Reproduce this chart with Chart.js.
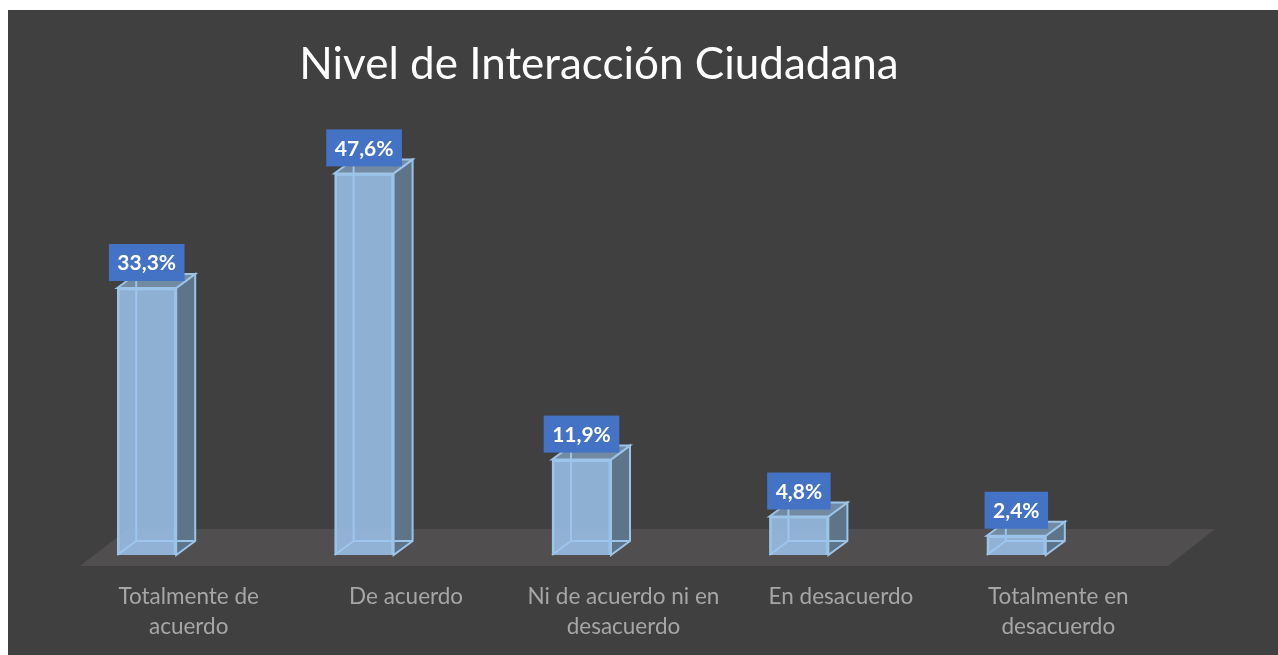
<!DOCTYPE html>
<html>
<head>
<meta charset="utf-8">
<script src="https://cdn.jsdelivr.net/npm/chart.js@4"></script>
<style>
  html, body { margin: 0; padding: 0; background: #fff; overflow: hidden; }
  #wrap { position: relative; width: 1278px; height: 655px; }
  canvas { display: block; }
</style>
</head>
<body>
<div id="wrap"><canvas id="chart" width="1278" height="655"></canvas></div>
<script>
const categories = [
  ['Totalmente de', 'acuerdo'],
  'De acuerdo',
  ['Ni de acuerdo ni en', 'desacuerdo'],
  'En desacuerdo',
  ['Totalmente en', 'desacuerdo'],
];
const percentValues = [33.3, 47.6, 11.9, 4.8, 2.4];
const chartTitle = 'Nivel de Interacción Ciudadana';

const FONT = 'Lato';
const PANEL_COLOR = '#404040';
const FLOOR_COLOR = '#504e4e';
const BAR_FRONT = 'rgba(157,198,238,0.84)';
const BAR_EDGE = '#9cc3e8';
const BAR_SIDE = '#5e7488';
const BAR_TOP = '#728aa2';
const BADGE_COLOR = '#4472c4';
const DEPTH_X = 19;
const DEPTH_Y = 14;

function poly(ctx, pts, fill, stroke) {
  ctx.beginPath();
  pts.forEach((p, i) => (i ? ctx.lineTo(p[0], p[1]) : ctx.moveTo(p[0], p[1])));
  ctx.closePath();
  if (fill) { ctx.fillStyle = fill; ctx.fill(); }
  if (stroke) { ctx.strokeStyle = stroke; ctx.lineWidth = 2; ctx.stroke(); }
}

// panel + floor + the 3D sides of each bar, all behind the library's own bars
const boxes3d = {
  id: 'boxes3d',
  beforeDraw(chart) {
    const { ctx, width, height } = chart;
    ctx.save();
    ctx.fillStyle = '#fff';
    ctx.fillRect(0, 0, width, height);
    ctx.fillStyle = PANEL_COLOR;
    ctx.fillRect(8, 10, width - 8, height - 10);
    ctx.restore();
  },
  beforeDatasetsDraw(chart) {
    const { ctx, chartArea } = chart;
    const base = chartArea.bottom;
    ctx.save();
    poly(ctx, [
      [chartArea.left + 42, base + 11],
      [chartArea.right + 43, base + 11],
      [chartArea.right + 90, base - 26],
      [chartArea.left + 90, base - 26],
    ], FLOOR_COLOR);
    chart.getDatasetMeta(0).data.forEach(bar => {
      const l = bar.x - bar.width / 2, r = bar.x + bar.width / 2, t = bar.y, b = bar.base;
      poly(ctx, [[r, t], [r + DEPTH_X, t - DEPTH_Y], [r + DEPTH_X, b - DEPTH_Y], [r, b]], BAR_SIDE, BAR_EDGE);
      poly(ctx, [[l, t], [l + DEPTH_X, t - DEPTH_Y], [r + DEPTH_X, t - DEPTH_Y], [r, t]], BAR_TOP, BAR_EDGE);
      ctx.strokeStyle = BAR_EDGE;
      ctx.lineWidth = 2;
      ctx.beginPath();
      ctx.moveTo(l, b); ctx.lineTo(l + DEPTH_X, b - DEPTH_Y);
      ctx.lineTo(r + DEPTH_X, b - DEPTH_Y);
      ctx.moveTo(l + DEPTH_X, b - DEPTH_Y); ctx.lineTo(l + DEPTH_X, t - DEPTH_Y);
      ctx.stroke();
    });
    ctx.restore();
  },
  afterDatasetsDraw(chart) {
    const { ctx } = chart;
    ctx.save();
    ctx.font = '700 21px ' + FONT;
    ctx.textAlign = 'center';
    ctx.textBaseline = 'middle';
    chart.getDatasetMeta(0).data.forEach((bar, i) => {
      const label = percentValues[i].toFixed(1).replace('.', ',') + '%';
      const w = ctx.measureText(label).width + 17;
      const cx = bar.x, cy = bar.y - 25.5;
      ctx.fillStyle = BADGE_COLOR;
      ctx.fillRect(cx - w / 2, cy - 18.5, w, 37);
      ctx.fillStyle = '#fff';
      ctx.fillText(label, cx, cy + 1);
    });
    ctx.restore();
  },
  afterLayout(chart) {
    // the title sits left of the page centre in the original
    chart.titleBlock.right = 1198 - chart.titleBlock.left;
  },
};

new Chart(document.getElementById('chart'), {
  type: 'bar',
  data: {
    labels: categories,
    datasets: [{
      data: percentValues,
      backgroundColor: BAR_FRONT,
      borderColor: BAR_EDGE,
      borderWidth: 2,
      barThickness: 59,
    }],
  },
  options: {
    responsive: false,
    animation: false,
    layout: { padding: { left: 38, right: 153, top: 0, bottom: 0 } },
    plugins: {
      legend: { display: false },
      tooltip: { enabled: false },
      title: {
        display: true,
        text: chartTitle,
        color: '#ffffff',
        font: { family: FONT, size: 44, weight: '400', lineHeight: 1 },
        padding: { top: 43, bottom: 3 },
      },
    },
    scales: {
      x: {
        grid: { display: false },
        border: { display: false },
        afterFit: scale => { scale.height = 100; },
        ticks: {
          color: '#a6a6a6',
          font: { family: FONT, size: 22.5, lineHeight: 1.33 },
          padding: 19,
          maxRotation: 0,
          autoSkip: false,
          labelOffset: 42,
        },
      },
      y: { display: false, min: 0, max: 58 },
    },
  },
  plugins: [boxes3d],
});
</script>
</body>
</html>
